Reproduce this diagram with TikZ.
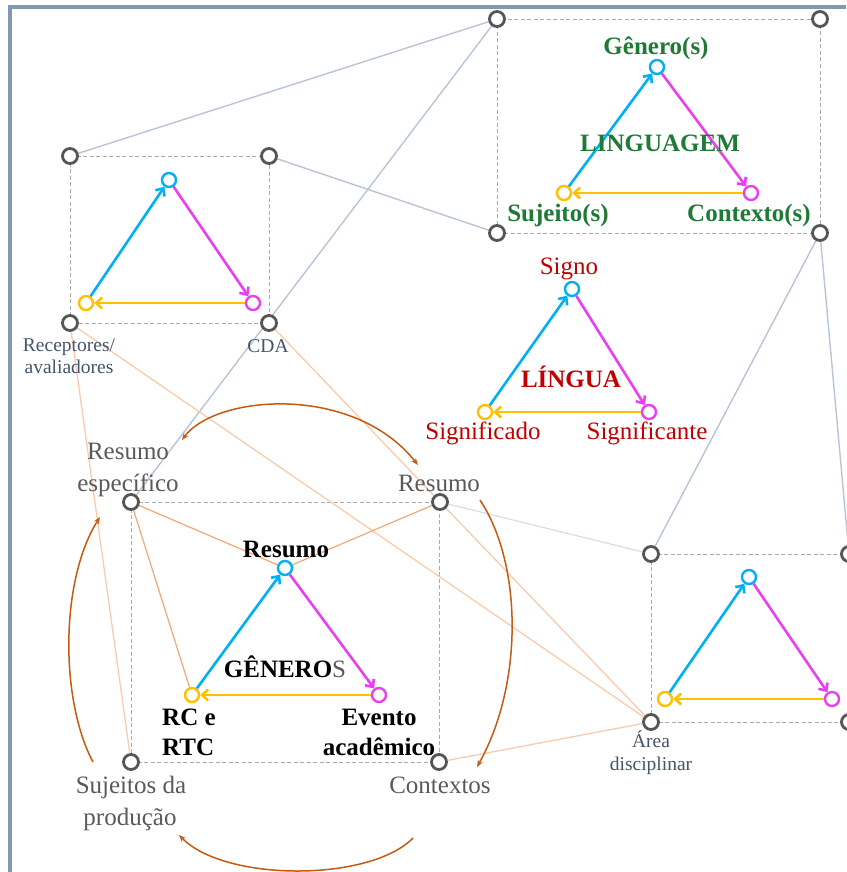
\documentclass[tikz,border=0pt]{standalone}
\usepackage{fontspec}
\setmainfont{Liberation Serif}
\usetikzlibrary{arrows.meta,backgrounds}

\definecolor{framecol}{RGB}{132,151,176}
\definecolor{handlegray}{RGB}{85,85,85}
\definecolor{boxgray}{RGB}{170,170,170}
\definecolor{linkblue}{RGB}{184,196,214}
\definecolor{linkfaint}{RGB}{214,221,232}
\definecolor{linkpeach}{RGB}{248,203,173}
\definecolor{linkorange}{RGB}{240,168,118}
\definecolor{arcorange}{RGB}{197,90,17}
\definecolor{tcyan}{RGB}{0,176,240}
\definecolor{tmagenta}{RGB}{232,64,240}
\definecolor{tyellow}{RGB}{255,192,0}
\definecolor{lgreen}{RGB}{30,122,52}
\definecolor{lred}{RGB}{192,0,0}
\definecolor{labgray}{RGB}{89,89,89}
\definecolor{smallgray}{RGB}{68,84,106}

\begin{document}
\begin{tikzpicture}[x=1pt,y=-1pt,
  handle/.style={circle,draw=handlegray,line width=2.8pt,fill=white,minimum size=15pt,inner sep=0pt},
  vtx/.style={circle,line width=2.4pt,fill=white,minimum size=14pt,inner sep=0pt},
  vcyan/.style={vtx,draw=tcyan},
  vmag/.style={vtx,draw=tmagenta},
  vyel/.style={vtx,draw=tyellow},
  tri/.style={line width=2.6pt,-{Straight Barb[length=6pt,width=11pt]}},
  boxline/.style={draw=boxgray,dash pattern=on 4pt off 2.5pt,line width=0.9pt},
  bluelink/.style={draw=linkblue,line width=1.4pt},
  faintlink/.style={draw=linkfaint,line width=1.2pt},
  peachlink/.style={draw=linkpeach,line width=1.3pt},
  orangelink/.style={draw=linkorange,line width=1.2pt},
  cycarc/.style={draw=arcorange,line width=1.5pt},
  lab/.style={inner sep=0pt,anchor=base,font=\fontsize{25}{30}\selectfont},
  boldlab/.style={inner sep=0pt,anchor=base,font=\fontsize{25}{30}\selectfont\bfseries},
  smalllab/.style={inner sep=0pt,anchor=base,font=\fontsize{19.5}{23}\selectfont,text=smallgray},
  cyctip/.tip={Stealth[length=7pt,width=5.5pt]}
]
\useasboundingbox (0,0) rectangle (846,872);

% outer frame
\draw[framecol,line width=3.5pt] (10,872) -- (10,7) -- (846,7);

% ---------- LINGUAGEM ----------
\node[handle] (lTL) at (497,19) {};
\node[handle] (lTR) at (820,19) {};
\node[handle] (lBL) at (497,233) {};
\node[handle] (lBR) at (820,233) {};
\node[vcyan] (lTop) at (657,67) {};
\node[vyel] (lLeft) at (564,193) {};
\node[vmag] (lRight) at (751,193) {};
\draw[tri,tcyan] (lLeft) -- (lTop);
\draw[tri,tmagenta] (lTop) -- (lRight);
\draw[tri,tyellow] (lRight) -- (lLeft);
\node[boldlab,text=lgreen] (tGen) at (656,55) {Gênero(s)};
\node[boldlab,text=lgreen] (tLing) at (660,151) {LINGUAGEM};
\node[boldlab,text=lgreen] (tSuj) at (558,221) {Sujeito(s)};
\node[boldlab,text=lgreen] (tCtx) at (749,221) {Contexto(s)};

% ---------- receptores / CDA ----------
\node[handle] (rTL) at (70,156) {};
\node[handle] (rTR) at (269,156) {};
\node[handle] (rBL) at (70,323) {};
\node[handle] (rBR) at (269,323) {};
\node[vcyan] (rTop) at (169,180) {};
\node[vyel] (rLeft) at (86,303) {};
\node[vmag] (rRight) at (253,303) {};
\draw[tri,tcyan] (rLeft) -- (rTop);
\draw[tri,tmagenta] (rTop) -- (rRight);
\draw[tri,tyellow] (rRight) -- (rLeft);
\node[smalllab] (tRec1) at (69,351) {Receptores/};
\node[smalllab] (tRec2) at (69,373) {avaliadores};
\node[smalllab] (tCda) at (268,352) {CDA};

% ---------- LÍNGUA ----------
\node[vcyan] (sTop) at (572,289) {};
\node[vyel] (sLeft) at (485,412) {};
\node[vmag] (sRight) at (649,412) {};
\draw[tri,tcyan] (sLeft) -- (sTop);
\draw[tri,tmagenta] (sTop) -- (sRight);
\draw[tri,tyellow] (sRight) -- (sLeft);
\node[lab,text=lred] (tSigno) at (569,274) {Signo};
\node[boldlab,text=lred] (tLingua) at (571,387) {LÍNGUA};
\node[lab,text=lred] (tSdo) at (483,439) {Significado};
\node[lab,text=lred] (tSte) at (647,439) {Significante};

% ---------- GÊNEROS ----------
\node[handle] (gTL) at (131,502) {};
\node[handle] (gTR) at (440,502) {};
\node[handle] (gBL) at (131,762) {};
\node[handle] (gBR) at (439,762) {};
\node[vcyan] (gTop) at (285,568) {};
\node[vyel] (gLeft) at (192,695) {};
\node[vmag] (gRight) at (379,695) {};
\draw[tri,tcyan] (gLeft) -- (gTop);
\draw[tri,tmagenta] (gTop) -- (gRight);
\draw[tri,tyellow] (gRight) -- (gLeft);
\node[boldlab] (tGres) at (286,557) {Resumo};
\node[boldlab] (tGeneros) at (285,677) {GÊNERO\textcolor{labgray}{\mdseries S}};
\node[boldlab,anchor=base west] (tRc1) at (162,725) {RC e};
\node[boldlab,anchor=base west] (tRc2) at (162,755) {RTC};
\node[boldlab] (tEv1) at (379,725) {Evento};
\node[boldlab] (tEv2) at (379,755) {acadêmico};
\node[lab,text=labgray] (tRe1) at (128,459) {Resumo};
\node[lab,text=labgray] (tRe2) at (128,491) {específico};
\node[lab,text=labgray] (tRes) at (439,491) {Resumo};
\node[lab,text=labgray] (tSp1) at (131,793) {Sujeitos da};
\node[lab,text=labgray] (tSp2) at (130,825) {produção};
\node[lab,text=labgray] (tCtxs) at (440,793) {Contextos};

% ---------- área disciplinar ----------
\node[handle] (aTL) at (651,554) {};
\node[handle] (aTR) at (849,554) {};
\node[handle] (aBL) at (651,722) {};
\node[handle] (aBR) at (849,722) {};
\node[vcyan] (aTop) at (749,577) {};
\node[vyel] (aLeft) at (665,699) {};
\node[vmag] (aRight) at (832,699) {};
\draw[tri,tcyan] (aLeft) -- (aTop);
\draw[tri,tmagenta] (aTop) -- (aRight);
\draw[tri,tyellow] (aRight) -- (aLeft);
\node[smalllab] (tArea1) at (651,747) {Área};
\node[smalllab] (tArea2) at (651,770) {disciplinar};

% ---------- dashed frames and links, behind everything ----------
\begin{pgfonlayer}{background}
  \draw[boxline] (lTL.center) rectangle (lBR.center);
  \draw[boxline] (rTL.center) rectangle (rBR.center);
  \draw[boxline] (gTL.center) rectangle (gBR.center);
  \draw[boxline] (aTL.center) rectangle (aBR.center);

  \draw[bluelink] (lTL) -- (rTL);
  \draw[bluelink] (lTL) -- (gTL);
  \draw[bluelink] (rTR) -- (lBL);
  \draw[bluelink] (lBR) -- (aTL);
  \draw[bluelink] (lBR) -- (aTR);
  \draw[faintlink] (gTR) -- (aTL);

  \draw[peachlink] (rBL) -- (gBL);
  \draw[peachlink] (rBL) -- (aBL);
  \draw[peachlink] (rBR) -- (gTR);
  \draw[peachlink] (gTR) -- (aBL);
  \draw[peachlink] (gBR) -- (aBL);

  \draw[orangelink] (gTL) -- (gTop);
  \draw[orangelink] (gTop) -- (gTR);
  \draw[orangelink] (gTL) -- (gLeft);
\end{pgfonlayer}

% ---------- cycle arcs ----------
\coordinate (arcTopL) at (182,440);
\coordinate (arcTopR) at (418,465);
\coordinate (arcRS) at (480,500);
\coordinate (arcRE) at (477,767);
\coordinate (arcBS) at (413,838);
\coordinate (arcBE) at (179,835);
\coordinate (arcLS) at (93,762);
\coordinate (arcLE) at (100,517);
\draw[cycarc,cyctip-cyctip] (arcTopL) .. controls (215,395) and (353,383) .. (arcTopR);
\draw[cycarc,-cyctip] (arcRS) .. controls (523,565) and (523,685) .. (arcRE);
\draw[cycarc,-cyctip] (arcBS) .. controls (370,882) and (225,882) .. (arcBE);
\draw[cycarc,-cyctip] (arcLS) .. controls (60,700) and (60,580) .. (arcLE);
\end{tikzpicture}
\end{document}
